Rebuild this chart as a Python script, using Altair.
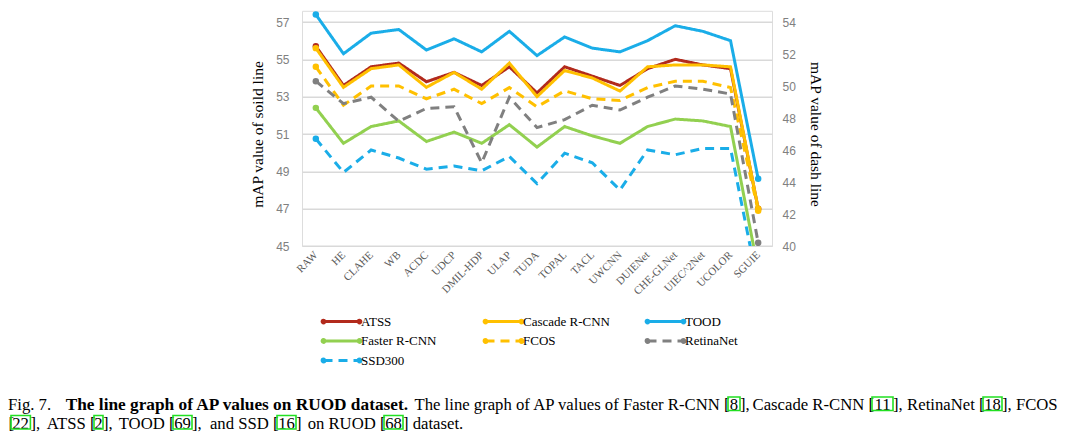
import altair as alt
import pandas as pd

categories = ["RAW", "HE", "CLAHE", "WB", "ACDC", "UDCP", "DMIL-HDP", "ULAP", "TUDA",
              "TOPAL", "TACL", "UWCNN", "DUIENet", "CHE-GLNet", "UIEC^2Net", "UCOLOR", "SGUIE"]

# solid lines (left axis)
atss    = [55.7, 53.6, 54.6, 54.8, 53.8, 54.3, 53.6, 54.6, 53.2, 54.6, 54.1, 53.6, 54.5, 55.0, 54.7, 54.5, 47.0]
cascade = [55.6, 53.5, 54.5, 54.7, 53.5, 54.3, 53.4, 54.8, 53.0, 54.4, 54.0, 53.3, 54.6, 54.7, 54.7, 54.6, 47.0]
tood    = [57.4, 55.3, 56.4, 56.6, 55.5, 56.1, 55.4, 56.5, 55.2, 56.2, 55.6, 55.4, 56.0, 56.8, 56.5, 56.0, 48.6]
faster  = [52.4, 50.5, 51.4, 51.7, 50.6, 51.1, 50.5, 51.5, 50.3, 51.4, 50.9, 50.5, 51.4, 51.8, 51.7, 51.4, 43.7]
# dashed lines (right axis)
fcos    = [51.2, 48.8, 50.0, 50.0, 49.2, 49.8, 48.9, 49.9, 48.7, 49.7, 49.2, 49.1, 49.9, 50.3, 50.3, 49.9, 42.2]
retina  = [50.3, 48.9, 49.3, 47.8, 48.6, 48.7, 45.2, 49.3, 47.4, 47.9, 48.8, 48.5, 49.3, 50.0, 49.8, 49.5, 40.2]
ssd     = [46.7, 44.6, 46.0, 45.5, 44.8, 45.0, 44.7, 45.6, 43.9, 45.8, 45.2, 43.5, 46.0, 45.7, 46.1, 46.1, 37.5]

legend_order = ["ATSS", "Cascade R-CNN", "TOOD", "Faster R-CNN", "FCOS", "RetinaNet", "SSD300"]
colors = ["#B22A1C", "#FFC000", "#1AADE8", "#92D050", "#FFC000", "#808080", "#1AADE8"]
dashes = [[1, 0], [1, 0], [1, 0], [1, 0], [9, 6], [9, 6], [9, 6]]

left_ticks = [45, 47, 49, 51, 53, 55, 57]
right_ticks = [40, 42, 44, 46, 48, 50, 52, 54]
LEFT_DOMAIN = [45, 57.6]
RIGHT_DOMAIN = [40, 54.7]

# caption segments (page coordinates); L = left aligned, R = right aligned, C = centred, B = bold
cap_text = ["Fig. 7.", "The line graph of AP values on RUOD dataset.",
            "The line graph of AP values of Faster R-CNN [", "8", "],", "Cascade R-CNN [", "11",
            "],", "RetinaNet [", "18", "], FCOS",
            "[", "22", "],", "ATSS [", "2", "],", "TOOD [", "69", "],", "and SSD [", "16",
            "]", "on RUOD [", "68", "] dataset."]
cap_x = [8, 65.7, 729.5, 734, 740, 874, 882.5, 893, 984.5, 992.5, 1002,
         14, 20.6, 30.4, 95.5, 98.5, 103, 174.5, 182.5, 192, 278.5, 286.5, 296, 385.5, 393.5, 403]
cap_line = [0] * 11 + [1] * 15
cap_kind = ["L", "B", "R", "C", "L", "R", "C", "L", "R", "C", "L",
            "R", "C", "L", "R", "C", "L", "R", "C", "L", "R", "C", "L", "R", "C", "L"]
box_x1 = [728, 872, 983, 11, 94, 173, 277, 384]
box_x2 = [740, 893, 1002, 30.4, 103, 192, 296, 403]
box_line = [0, 0, 0, 1, 1, 1, 1, 1]

PLOT_LEFT = 302
PLOT_W = 470
# 57 (left) / 54 (right) gridline sits at page y=22, 45 / 40 at page y=246
PX_PER_UNIT = (246 - 22) / 12.0
PLOT_H = PX_PER_UNIT * (LEFT_DOMAIN[1] - LEFT_DOMAIN[0])
PLOT_TOP = 246 - PLOT_H
BASELINES = [410, 428.5]
BOX_TOP = [397, 415.5]
BOX_BOTTOM = [410.5, 429]


def series_df(names, series):
    rows = []
    for n, vals in zip(names, series):
        for c, v in zip(categories, vals):
            rows.append({"series": n, "cat": c, "value": v})
    return pd.DataFrame(rows)


solid_df = series_df(["ATSS", "Cascade R-CNN", "TOOD", "Faster R-CNN"], [atss, cascade, tood, faster])
dash_df = series_df(["FCOS", "RetinaNet", "SSD300"], [fcos, retina, ssd])

# legend symbol: 36px line with small dots at both ends; symbol box is 14px (unit = 7px)
U = 7.0
half = 18 / U
r = 1.4 / U
dot_path = (f"M{-half:.3f},0L{half:.3f},0"
            f"M{-half - r:.3f},0A{r:.3f},{r:.3f},0,1,0,{-half + r:.3f},0A{r:.3f},{r:.3f},0,1,0,{-half - r:.3f},0Z"
            f"M{half - r:.3f},0A{r:.3f},{r:.3f},0,1,0,{half + r:.3f},0A{r:.3f},{r:.3f},0,1,0,{half - r:.3f},0Z")

legend = alt.Legend(
    title=None, orient="none", legendX=(322 - PLOT_LEFT) + 11, legendY=320 - PLOT_TOP - 7,
    columns=3, direction="horizontal",
    gridAlign="all", columnPadding=29, rowPadding=3.5,
    symbolType=dot_path, symbolSize=196, symbolStrokeWidth=3,
    labelFont="Liberation Serif", labelFontSize=13, labelColor="#000000", labelOffset=11,
    labelLimit=200,
)

color_enc = alt.Color("series:N", scale=alt.Scale(domain=legend_order, range=colors), legend=legend)
dash_enc = alt.StrokeDash("series:N", scale=alt.Scale(domain=legend_order, range=dashes), legend=legend)
color_nolegend = alt.Color("series:N", scale=alt.Scale(domain=legend_order, range=colors), legend=None)

x_enc = alt.X("cat:N", sort=categories, scale=alt.Scale(type="point", padding=0.5),
              axis=alt.Axis(title=None, labelAngle=-45, labelAlign="right", labelBaseline="middle",
                            labelFont="Liberation Serif", labelFontSize=11, labelColor="#595959",
                            labelPadding=7, domain=False, ticks=False, grid=False))

y_left = alt.Y("value:Q", scale=alt.Scale(domain=LEFT_DOMAIN, nice=False, zero=False),
               axis=alt.Axis(values=left_ticks, title="mAP value of soild line",
                             titleFont="Liberation Serif", titleFontSize=15.5, titleFontWeight="normal",
                             titleColor="#000000", titlePadding=10, titleY=(22 + 246) / 2 - PLOT_TOP,
                             labelFont="Liberation Sans", labelFontSize=12, labelColor="#808080",
                             labelPadding=13, domain=False, ticks=False,
                             grid=True, gridColor="#D9D9D9", gridWidth=1.4))
y_right = alt.Y("value:Q", scale=alt.Scale(domain=RIGHT_DOMAIN, nice=False, zero=False),
                axis=alt.Axis(values=right_ticks, orient="right", title="mAP value of dash line",
                              titleFont="Liberation Serif", titleFontSize=15.5, titleFontWeight="normal",
                              titleColor="#000000", titlePadding=12, titleY=(22 + 246) / 2 - PLOT_TOP,
                              labelFont="Liberation Sans", labelFontSize=12, labelColor="#808080",
                              labelPadding=10, domain=False, ticks=False, grid=False))

end_filter = alt.FieldOneOfPredicate(field="cat", oneOf=[categories[0], categories[-1]])

solid_lines = alt.Chart(solid_df).mark_line(strokeWidth=3, clip=True).encode(
    x=x_enc, y=y_left, color=color_enc, strokeDash=dash_enc)
solid_pts = alt.Chart(solid_df).transform_filter(end_filter).mark_circle(size=42, opacity=1, clip=True).encode(
    x=x_enc, y=y_left, color=color_nolegend)
dash_lines = alt.Chart(dash_df).mark_line(strokeWidth=3, clip=True).encode(
    x=x_enc, y=y_right, color=color_enc, strokeDash=dash_enc)
dash_pts = alt.Chart(dash_df).transform_filter(end_filter).mark_circle(size=42, opacity=1, clip=True).encode(
    x=x_enc, y=y_right, color=color_nolegend)

solid_layer = alt.layer(solid_lines, solid_pts)
dash_layer = alt.layer(dash_lines, dash_pts)

cap_df = pd.DataFrame({
    "text": cap_text,
    "px": [v - PLOT_LEFT for v in cap_x],
    "py": [BASELINES[l] - PLOT_TOP for l in cap_line],
    "kind": cap_kind,
})
box_df = pd.DataFrame({
    "bx1": [v - PLOT_LEFT for v in box_x1],
    "bx2": [v - PLOT_LEFT for v in box_x2],
    "by1": [BOX_TOP[l] - PLOT_TOP for l in box_line],
    "by2": [BOX_BOTTOM[l] - PLOT_TOP for l in box_line],
})


def cap_layer(kind, align, weight, size):
    return alt.Chart(cap_df).transform_filter(alt.datum.kind == kind).mark_text(
        align=align, baseline="alphabetic", font="Liberation Serif", fontSize=size,
        fontWeight=weight, color="#000000").encode(
        x=alt.X("px:Q", scale=None), y=alt.Y("py:Q", scale=None), text="text:N")


caption = alt.layer(
    cap_layer("L", "left", "normal", 16.7),
    cap_layer("B", "left", "bold", 17.3),
    cap_layer("R", "right", "normal", 16.7),
    cap_layer("C", "center", "normal", 16.7),
)
boxes = alt.Chart(box_df).mark_rect(fillOpacity=0, stroke="#22E022", strokeWidth=1.6).encode(
    x=alt.X("bx1:Q", scale=None), x2="bx2:Q", y=alt.Y("by1:Q", scale=None), y2="by2:Q")

chart = alt.layer(solid_layer, dash_layer, caption, boxes).resolve_scale(
    y="independent"
).properties(
    width=PLOT_W, height=PLOT_H,
    autosize=alt.AutoSizeParams(type="none"),
    padding={"left": PLOT_LEFT - 8, "top": PLOT_TOP - 8, "right": 290, "bottom": 427 - PLOT_H - (PLOT_TOP - 8)},
).configure_view(stroke=None).configure(background="white")

chart.save("out.html", embed_options={"renderer": "svg", "actions": False})
